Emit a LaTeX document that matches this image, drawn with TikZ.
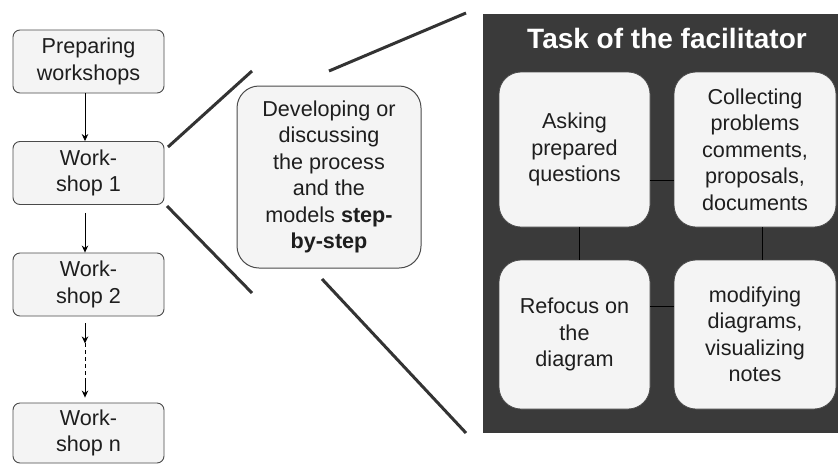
\documentclass[tikz,border=0pt]{standalone}
\usepackage{fontspec}
\setmainfont{Liberation Sans}
\usetikzlibrary{arrows.meta}
\definecolor{txt}{HTML}{1E1E1E}
\definecolor{boxfill}{HTML}{F4F4F4}
\definecolor{boxline}{HTML}{4A4A4A}
\definecolor{darkbg}{HTML}{3A3A3A}
\definecolor{thick}{HTML}{333333}
\begin{document}
\begin{tikzpicture}[x=1pt,y=-1pt,
  every node/.style={font=\fontsize{21.6}{26.5}\selectfont, text=txt, align=center, inner sep=0pt},
  lbox/.style={draw=boxline, line width=0.9pt, fill=boxfill, rounded corners=7pt, minimum width=151pt, minimum height=63pt},
  mbox/.style={draw=boxline, line width=1pt, fill=boxfill, rounded corners=22pt, minimum width=184pt, minimum height=182pt},
  tbox/.style={draw=boxline, line width=0.8pt, fill=boxfill, rounded corners=22pt, minimum height=155pt},
  flowarrow/.style={-{Stealth[length=7pt,width=6.5pt]}, line width=0.8pt, draw=black},
  zoomline/.style={draw=thick, line width=3pt},
  link/.style={draw=black, line width=1pt}]
\useasboundingbox (0,0) rectangle (838,464);
\fill[white] (0,0) rectangle (838,464);

% left flow
\node[lbox] (prep) at (88.5,61.5) {Preparing\\workshops};
\node[lbox] (ws1) at (88.5,173) {Work-\\shop 1};
\node[lbox] (ws2) at (88.5,284.5) {Work-\\shop 2};
\node[lbox, minimum height=60pt] (wsn) at (88.5,433) {Work-\\shop n};

\draw[flowarrow] ([xshift=-3.5pt]prep.south) -- ([xshift=-3.5pt]ws1.north);
\draw[flowarrow] ([xshift=-3.5pt,yshift=-8pt]ws1.south) -- ([xshift=-3.5pt]ws2.north);
\coordinate (d1) at ([xshift=-3.5pt,yshift=-7pt]ws2.south);
\coordinate (d2) at ([xshift=-3.5pt,yshift=-27pt]ws2.south);
\coordinate (d3) at ([xshift=-3.5pt,yshift=23pt]wsn.north);
\coordinate (d4) at ([xshift=-3.5pt,yshift=5pt]wsn.north);
\draw[flowarrow] (d1) -- (d2);
\draw[line width=1pt, dash pattern=on 4pt off 3pt] (d2) -- ([yshift=-3pt]d3);
\draw[flowarrow] ([yshift=-1pt]d3) -- (d4);

% middle box
\node[mbox] (mid) at (329,177) {Developing or\\discussing\\the process\\and the\\models \textbf{step-}\\\textbf{by-step}};

% dark panel
\fill[darkbg] (483,14) rectangle (838,433);
\node[font=\bfseries\fontsize{28}{32}\selectfont, text=white] (title) at (667,38) {Task of the facilitator};
\node[tbox, minimum width=151pt] (ask) at (574.5,149.5) {Asking\\prepared\\questions};
\node[tbox, minimum width=162pt] (col) at (755,149.5) {Collecting\\problems\\comments,\\proposals,\\documents};
\node[tbox, minimum width=151pt, minimum height=149pt] (ref) at (574.5,334.5) {Refocus on\\the\\diagram};
\node[tbox, minimum width=162pt, minimum height=149pt] (mod) at (755,334.5) {modifying\\diagrams,\\visualizing\\notes};
\draw[link] (ask.east |- 0,180) -- (col.west |- 0,180);
\draw[link] (ref.east |- 0,306) -- (mod.west |- 0,306);
\draw[link] (ask.south -| 579,0) -- (ref.north -| 579,0);
\draw[link] (col.south -| 762,0) -- (mod.north -| 762,0);

% zoom lines
\coordinate (z1a) at (168,147);
\coordinate (z1b) at (252,71);
\coordinate (z2a) at (329,71);
\coordinate (z2b) at (466,13);
\coordinate (z3a) at (167,206);
\coordinate (z3b) at (252,293);
\coordinate (z4a) at (322,279);
\coordinate (z4b) at (466,433);
\draw[zoomline] (z1a) -- (z1b);
\draw[zoomline] (z2a) -- (z2b);
\draw[zoomline] (z3a) -- (z3b);
\draw[zoomline] (z4a) -- (z4b);
\end{tikzpicture}
\end{document}
